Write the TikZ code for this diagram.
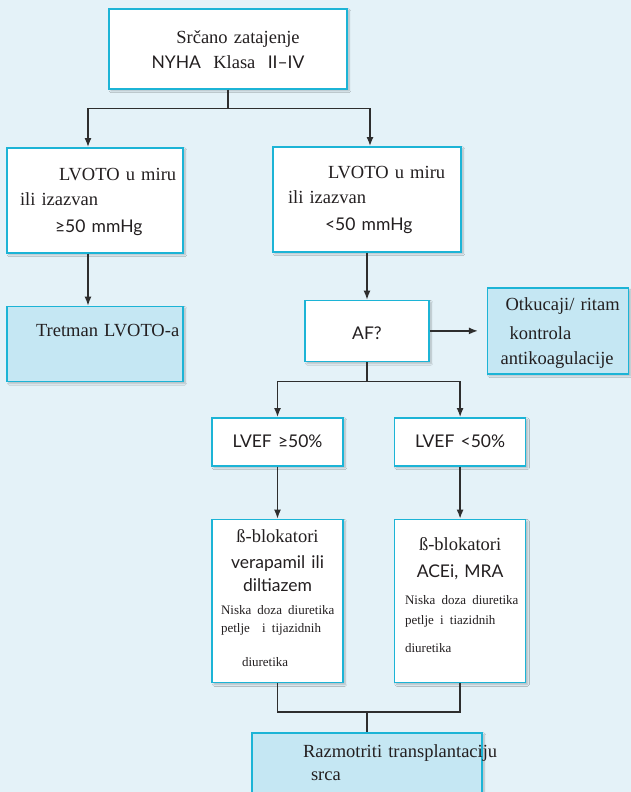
\documentclass[tikz,border=0pt]{standalone}
\usepackage{fontspec}
\setmainfont{Liberation Serif}[WordSpace=0.8]
\setsansfont{Lato}
\usetikzlibrary{positioning,shadows.blur,arrows.meta}
\definecolor{bgblue}{HTML}{E4F2F8}
\definecolor{boxcyan}{HTML}{1CB4D6}
\definecolor{fillblue}{HTML}{C5E7F3}
\definecolor{linegray}{HTML}{2E2E2E}
\definecolor{inkgray}{HTML}{231F20}
\newcommand{\ser}{\fontsize{18.5}{25}\selectfont}
\newcommand{\smallser}{\fontsize{13}{18}\selectfont}
\newcommand{\gs}[1]{{\sffamily\fontsize{17.5}{25}\selectfont #1}}

\begin{document}
\begin{tikzpicture}[x=1pt,y=-1pt]
\tikzstyle{box}=[rectangle, draw=boxcyan, line width=1.6pt, fill=white, text=inkgray, inner ysep=0pt, align=left, font=\ser, blur shadow={shadow xshift=2pt, shadow yshift=-2pt, shadow opacity=25, shadow blur steps=6}]
\tikzstyle{shaded}=[box, fill=fillblue]
\tikzstyle{connect}=[-{Latex[length=9pt,width=7pt]}, line width=1.3pt, draw=linegray]
\tikzstyle{wire}=[line width=1.3pt, draw=linegray]

\fill[bgblue] (0,0) rectangle (631,792);
\useasboundingbox (0,0) rectangle (631,792);

\node[box, align=center, inner xsep=10pt, text width=218pt, text height=35pt, text depth=45pt, anchor=north] (hf) at (228,8) {\hspace*{20pt}Srčano zatajenje\\ \gs{NYHA}\ \ Klasa\ \ \gs{II–IV}};
\coordinate[below=19pt of hf] (split_1);

\node[box, inner xsep=13pt, text width=150pt, text height=33pt, text depth=72pt, anchor=north] (lvoto_hi) at (95,147) {\hspace*{39pt}\mbox{LVOTO u miru}\\ ili izazvan\\[2pt] \hspace*{35pt}\gs{≥50 mmHg}};
\node[shaded, inner xsep=29pt, text width=118pt, text height=30pt, text depth=45pt] (tretman) [below=52pt of lvoto_hi] {\mbox{Tretman LVOTO-a}};

\node[box, inner xsep=15pt, text width=158pt, text height=32pt, text depth=73pt, anchor=north] (lvoto_lo) at (367,146) {\hspace*{40pt}\mbox{LVOTO u miru}\\ ili izazvan\\[2pt] \hspace*{37pt}\gs{<50 mmHg}};
\node[box, align=center, inner xsep=12pt, text width=100pt, text height=39pt, text depth=22pt] (af) [below=47pt of lvoto_lo] {\gs{AF?}};
\node[shaded, inner xsep=13pt, text width=115pt, text height=22.5pt, text depth=63.5pt] (rate) [right=57pt of af] {\hspace*{5pt}\mbox{Otkucaji/ ritam}\\[4pt] \hspace*{9pt}kontrola\\ antikoagulacije};
\coordinate[below=19pt of af] (split_2);

\node[box, align=center, inner xsep=10pt, text width=111pt, text height=30pt, text depth=18pt, anchor=north] (lvef_hi) at (277.5,417) {\gs{LVEF ≥50\%}};
\node[box, align=center, inner xsep=10pt, text width=111pt, text height=30pt, text depth=18pt] (lvef_lo) [right=50pt of lvef_hi] {\gs{LVEF <50\%}};

\node[box, inner xsep=9pt, text width=113pt, text height=23pt, text depth=140pt] (bb_hi) [below=52pt of lvef_hi] {\centering ß-blokatori\\[1pt] \gs{verapamil ili}\\[-2pt] \gs{diltiazem}\\[5pt] \raggedright\smallser \mbox{Niska doza diuretika}\\ \mbox{petlje\ \ i tijazidnih}\\[9pt] \hspace*{21pt}diuretika};
\node[box, inner xsep=10.5pt, text width=110pt, text height=31pt, text depth=132pt] (bb_lo) [below=52pt of lvef_lo] {\centering ß-blokatori\\[2pt] \gs{ACEi, MRA}\\[9pt] \raggedright\smallser \mbox{Niska doza diuretika}\\[2pt] petlje i tiazidnih\\[3pt] diuretika};

\coordinate (join_1) at (367,712);
\node[shaded, inner xsep=51pt, text width=128pt, text height=25pt, text depth=50pt] (tx) [below=20pt of join_1] {\mbox{Razmotriti transplantaciju}\\[-2pt] \hspace*{8pt}srca};

\draw[wire] (hf) -- (split_1);
\draw[connect] (split_1) -| ([xshift=-7pt]lvoto_hi.north);
\draw[connect] (split_1) -| ([xshift=3pt]lvoto_lo.north);
\draw[connect] ([xshift=-7pt]lvoto_hi.south) -- ([xshift=-7pt]tretman.north);

\path
(lvoto_lo) edge [connect] (af)
(af) edge [connect, shorten >=9pt] (rate)
(af) edge [wire] (split_2)
(lvef_hi) edge [connect] (bb_hi)
(lvef_lo) edge [connect] (bb_lo)
(join_1) edge [wire] (tx);

\draw[connect] (split_2) -| (lvef_hi);
\draw[connect] (split_2) -| (lvef_lo);
\draw[wire] (bb_hi) |- (join_1) -| (bb_lo);
\end{tikzpicture}
\end{document}
